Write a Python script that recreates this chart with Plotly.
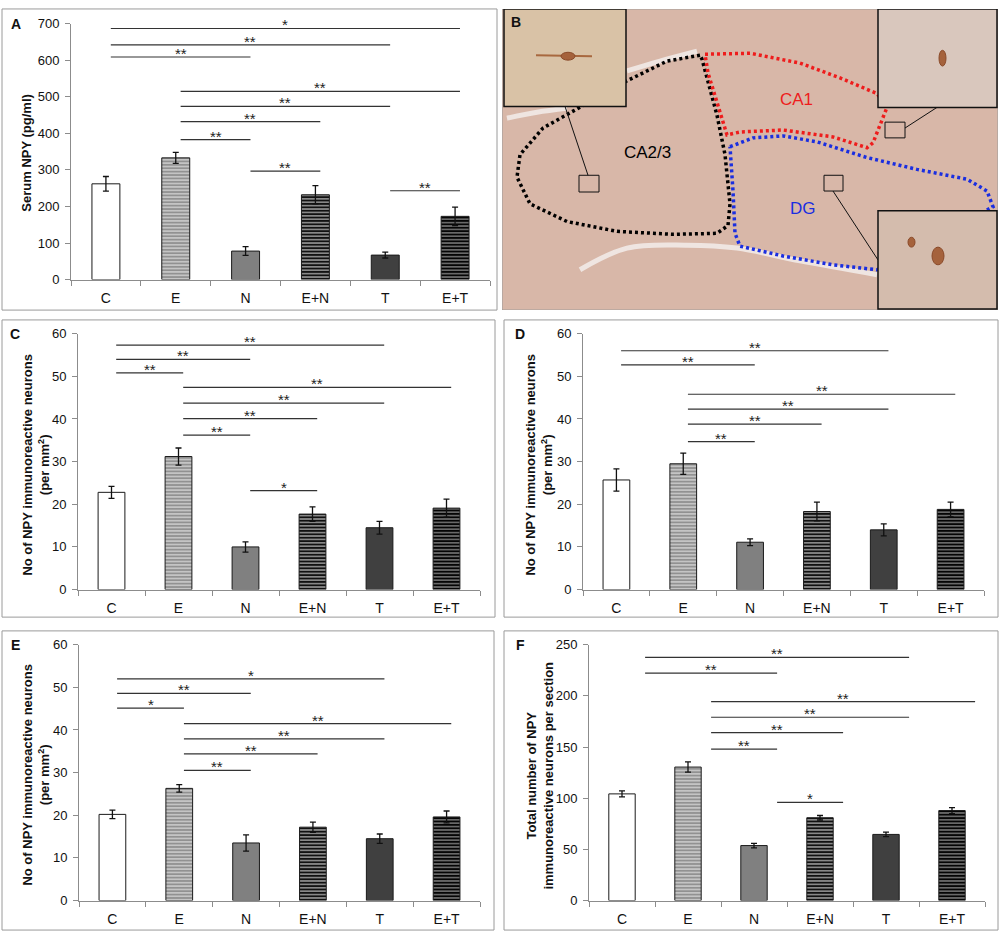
import plotly.graph_objects as go

# groups on every bar panel
groups = ["C", "E", "N", "E+N", "T", "E+T"]

# Panel A: serum NPY (pg/ml)
serum_mean = [262, 333, 78, 232, 67, 173]
serum_err = [20, 15, 12, 25, 8, 25]

# Panels C, D, E: NPY immunoreactive neurons per mm2
c_mean = [22.8, 31.2, 10.0, 17.7, 14.5, 19.1]
c_err = [1.4, 2.0, 1.2, 1.7, 1.5, 2.1]
d_mean = [25.7, 29.5, 11.1, 18.3, 14.0, 18.8]
d_err = [2.6, 2.5, 0.8, 2.2, 1.4, 1.7]
e_mean = [20.2, 26.3, 13.5, 17.2, 14.5, 19.6]
e_err = [1.0, 0.9, 1.9, 1.2, 1.1, 1.4]

# Panel F: total neurons per section
f_mean = [104.2, 130.4, 53.7, 80.9, 64.6, 87.9]
f_err = [3.0, 5.0, 2.2, 2.2, 2.2, 2.9]

# significance brackets: (from group, to group, height, stars)
a_sig = [("C", "E+T", 687, "*"), ("C", "T", 642, "**"), ("C", "N", 609, "**"),
         ("E", "E+T", 515, "**"), ("E", "T", 474, "**"), ("E", "E+N", 432, "**"),
         ("E", "N", 383, "**"), ("N", "E+N", 297, "**"), ("T", "E+T", 243, "**")]
c_sig = [("C", "T", 57.3, "**"), ("C", "N", 54.0, "**"), ("C", "E", 50.8, "**"),
         ("E", "E+T", 47.4, "**"), ("E", "T", 43.7, "**"), ("E", "E+N", 40.1, "**"),
         ("E", "N", 36.2, "**"), ("N", "E+N", 23.2, "*")]
d_sig = [("C", "T", 56.0, "**"), ("C", "N", 52.7, "**"), ("E", "E+T", 45.8, "**"),
         ("E", "T", 42.3, "**"), ("E", "E+N", 38.8, "**"), ("E", "N", 34.7, "**")]
e_sig = [("C", "T", 52.0, "*"), ("C", "N", 48.6, "**"), ("C", "E", 45.1, "*"),
         ("E", "E+T", 41.5, "**"), ("E", "T", 37.9, "**"), ("E", "E+N", 34.4, "**"),
         ("E", "N", 30.5, "**")]
f_sig = [("C", "T", 237.5, "**"), ("C", "N", 222.2, "**"), ("E", "E+T", 194.4, "**"),
         ("E", "T", 179.1, "**"), ("E", "E+N", 164.1, "**"), ("E", "N", 148.0, "**"),
         ("N", "E+N", 95.9, "*")]

# Panel B sketch of the hippocampus section (outlines of regions, image pixels)
ca23_x = [700, 667, 627, 580, 543, 520, 517, 530, 567, 617, 673, 717, 728, 730, 725, 717, 708, 702, 700]
ca23_y = [49, 55, 75, 102, 123, 150, 173, 200, 218, 228, 231, 230, 222, 200, 150, 110, 77, 53, 49]
ca1_x = [705, 750, 800, 840, 877, 887, 880, 873, 867, 833, 783, 740, 727, 718, 708, 705]
ca1_y = [48, 47, 57, 72, 88, 102, 120, 138, 143, 132, 125, 127, 130, 100, 67, 48]
dg_x = [730, 753, 783, 817, 867, 917, 967, 987, 993, 877, 833, 783, 740, 735, 733, 730]
dg_y = [142, 133, 131, 137, 153, 165, 175, 187, 203, 267, 262, 253, 243, 230, 187, 142]

W, H = 1000, 941


def dom_x(a, b):
    return [a / W, b / W]


def dom_y(top, bottom):
    return [1 - bottom / H, 1 - top / H]


# bar fills: plain for C/N/T, horizontal stripes for E, E+N, E+T
fill = ["white", "#c4c4c4", "#808080", "#111111", "#404040", "#050505"]
shape = ["", "-", "", "-", "", "-"]
fg = ["#000", "#000", "#000", "#9a9a9a", "#000", "#4f4f4f"]
solid = [0.4, 0.4, 0.4, 0.5, 0.4, 0.4]

panels = [
    dict(mean=serum_mean, err=serum_err, sig=a_sig, ymax=700, dtick=100, off=0.07,
         plot=(71, 490, 17, 277), frame=(2, 497, 2, 308), label="A", lab=(16, 17),
         title="Serum NPY (pg/ml)", tpos=(27, 148)),
    dict(mean=c_mean, err=c_err, sig=c_sig, ymax=60, dtick=10, off=0.07,
         plot=(78, 480, 332, 592), frame=(2, 495, 318, 620), label="C", lab=(15, 332),
         title="No of NPY immunoreactive neurons<br>(per mm<sup>2</sup>)", tpos=(36, 465)),
    dict(mean=d_mean, err=d_err, sig=d_sig, ymax=60, dtick=10, off=0.07,
         plot=(583, 984, 332, 592), frame=(504, 998, 318, 620), label="D", lab=(520, 332),
         title="No of NPY immunoreactive neurons<br>(per mm<sup>2</sup>)", tpos=(539, 465)),
    dict(mean=e_mean, err=e_err, sig=e_sig, ymax=60, dtick=10, off=0.07,
         plot=(79, 480, 648, 908), frame=(2, 494, 634, 938), label="E", lab=(15, 648),
         title="No of NPY immunoreactive neurons<br>(per mm<sup>2</sup>)", tpos=(36, 780)),
    dict(mean=f_mean, err=f_err, sig=f_sig, ymax=250, dtick=50, off=0.35,
         plot=(589, 985, 648, 908), frame=(504, 998, 634, 938), label="F", lab=(520, 648),
         title="Total number of NPY<br>immunoreactive neurons per section", tpos=(540, 781)),
]

fig = go.Figure()
shapes = []
annotations = []
axis_color = "#8c8c8c"

for i, p in enumerate(panels):
    s = "" if i == 0 else str(i + 1)
    fig.add_trace(go.Bar(
        x=list(range(len(groups))), y=p["mean"],
        xaxis="x" + s, yaxis="y" + s, width=0.4,
        error_y=dict(type="data", array=p["err"], color="#111", thickness=1.3, width=3),
        marker=dict(color=fill, line=dict(color="#1a1a1a", width=1),
                    pattern=dict(shape=shape, bgcolor=fill, fgcolor=fg, size=3.4, solidity=solid)),
        showlegend=False, hoverinfo="skip",
    ))
    x0, x1, y0, y1 = p["plot"]
    fig.layout["xaxis" + s] = dict(
        domain=dom_x(x0, x1), anchor="y" + s, range=[-0.5, 5.5],
        tickvals=list(range(6)), ticktext=groups, ticks="",
        showline=True, linecolor=axis_color, linewidth=1, showgrid=False, zeroline=False,
        tickfont=dict(size=14, color="#111"), ticklabelstandoff=6,
        minor=dict(tickvals=[k - 0.5 for k in range(7)], ticks="outside", ticklen=5,
                   tickcolor=axis_color),
    )
    fig.layout["yaxis" + s] = dict(
        domain=dom_y(y0, y1), anchor="x" + s, range=[0, p["ymax"]], dtick=p["dtick"],
        ticks="outside", ticklen=5, tickcolor=axis_color,
        showline=True, linecolor=axis_color, linewidth=1, showgrid=False, zeroline=False,
        tickfont=dict(size=13, color="#111"), ticklabelstandoff=3,
    )
    fx0, fx1, fy0, fy1 = p["frame"]
    shapes.append(dict(type="rect", xref="paper", yref="paper",
                       x0=fx0 / W, x1=fx1 / W, y0=1 - fy1 / H, y1=1 - fy0 / H,
                       line=dict(color="#9a9a9a", width=1)))
    annotations.append(dict(text="<b>%s</b>" % p["label"], xref="paper", yref="paper",
                            x=p["lab"][0] / W, y=1 - p["lab"][1] / H, showarrow=False,
                            xanchor="center", yanchor="middle",
                            font=dict(size=14, color="#111")))
    annotations.append(dict(text="<b>%s</b>" % p["title"], xref="paper", yref="paper",
                            x=p["tpos"][0] / W, y=1 - p["tpos"][1] / H, showarrow=False,
                            xanchor="center", yanchor="middle",
                            textangle=-90, font=dict(size=13, color="#111")))
    for g1, g2, lvl, stars in p["sig"]:
        a = groups.index(g1) + p["off"]
        b = groups.index(g2) + p["off"]
        shapes.append(dict(type="line", xref="x" + s, yref="y" + s, x0=a, x1=b, y0=lvl, y1=lvl,
                           line=dict(color="#333", width=1.2)))
        annotations.append(dict(text=stars, xref="x" + s, yref="y" + s, x=(a + b) / 2, y=lvl,
                                xanchor="center", yanchor="bottom", yshift=-7, showarrow=False,
                                font=dict(size=15, color="#222")))

# Panel B: schematic of the stained section
bx = "x6"
by = "y6"
fig.layout["xaxis6"] = dict(domain=dom_x(502, 998), range=[502, 998], visible=False, anchor="y6")
fig.layout["yaxis6"] = dict(domain=dom_y(2, 308), range=[308, 2], visible=False, anchor="x6")
shapes.append(dict(type="rect", xref=bx, yref=by, x0=502, x1=998, y0=2, y1=308,
                   fillcolor="#d8b7a8", line=dict(color="#9a9a9a", width=1), layer="below"))

# pale tissue gaps
for gx, gy in [([627, 660, 697], [65, 55, 45]),
               ([507, 537, 567], [113, 107, 103]),
               ([580, 627, 687, 737, 800, 877], [267, 245, 242, 245, 258, 272])]:
    fig.add_trace(go.Scatter(x=gx, y=gy, xaxis=bx, yaxis=by, mode="lines",
                             line=dict(color="#efe5e1", width=5, shape="spline"),
                             showlegend=False, hoverinfo="skip"))

for ox, oy, col in [(ca23_x, ca23_y, "#000000"), (ca1_x, ca1_y, "#ee1c1c"), (dg_x, dg_y, "#1a2ee0")]:
    fig.add_trace(go.Scatter(x=ox, y=oy, xaxis=bx, yaxis=by, mode="lines",
                             line=dict(color=col, width=3.5, dash="3px,3px"),
                             showlegend=False, hoverinfo="skip"))

for txt, tx, ty, col in [("CA2/3", 647, 148, "#000000"), ("CA1", 796, 94, "#ee1c1c"), ("DG", 803, 205, "#1a2ee0")]:
    annotations.append(dict(text=txt, xref=bx, yref=by, x=tx, y=ty, showarrow=False,
                            xanchor="center", yanchor="middle",
                            font=dict(size=17, color=col)))

# small boxes and leader lines
for r in [(579, 599, 171, 188), (885, 905, 117, 133), (824, 843, 171, 187)]:
    shapes.append(dict(type="rect", xref=bx, yref=by, x0=r[0], x1=r[1], y0=r[2], y1=r[3],
                       line=dict(color="#111", width=1)))
for l in [(588, 171, 565, 101), (905, 123, 937, 102), (833, 187, 878, 257)]:
    shapes.append(dict(type="line", xref=bx, yref=by, x0=l[0], y0=l[1], x1=l[2], y1=l[3],
                       line=dict(color="#111", width=1)))

# magnified insets
for r, col in [((504, 626, 2, 101), "#d9c2a6"), ((878, 997, 2, 102), "#d9c7bd"),
               ((878, 997, 207, 307), "#d4bcad")]:
    shapes.append(dict(type="rect", xref=bx, yref=by, x0=r[0], x1=r[1], y0=r[2], y1=r[3],
                       fillcolor=col, line=dict(color="#111", width=1.5)))
shapes.append(dict(type="line", xref=bx, yref=by, x0=536, x1=592, y0=49, y1=50,
                   line=dict(color="#a8683f", width=2)))
for c in [(561, 575, 46, 54), (939, 946, 44, 60), (932, 944, 244, 262), (908, 915, 234, 244)]:
    shapes.append(dict(type="circle", xref=bx, yref=by, x0=c[0], x1=c[1], y0=c[2], y1=c[3],
                       fillcolor="#a5623c", line=dict(color="#8a4a2a", width=1)))
annotations.append(dict(text="<b>B</b>", xref=bx, yref=by, x=516, y=15, showarrow=False,
                        xanchor="center", yanchor="middle",
                        font=dict(size=14, color="#111")))

fig.update_layout(
    width=W, height=H, margin=dict(l=0, r=0, t=0, b=0),
    paper_bgcolor="white", plot_bgcolor="white",
    font=dict(family="Liberation Sans, Arial, sans-serif", color="#111"),
    shapes=shapes, annotations=annotations, showlegend=False,
)

fig.write_html("out.html", config={"displayModeBar": False},
               post_script="document.body.style.margin='0';document.body.style.overflow='hidden';")
